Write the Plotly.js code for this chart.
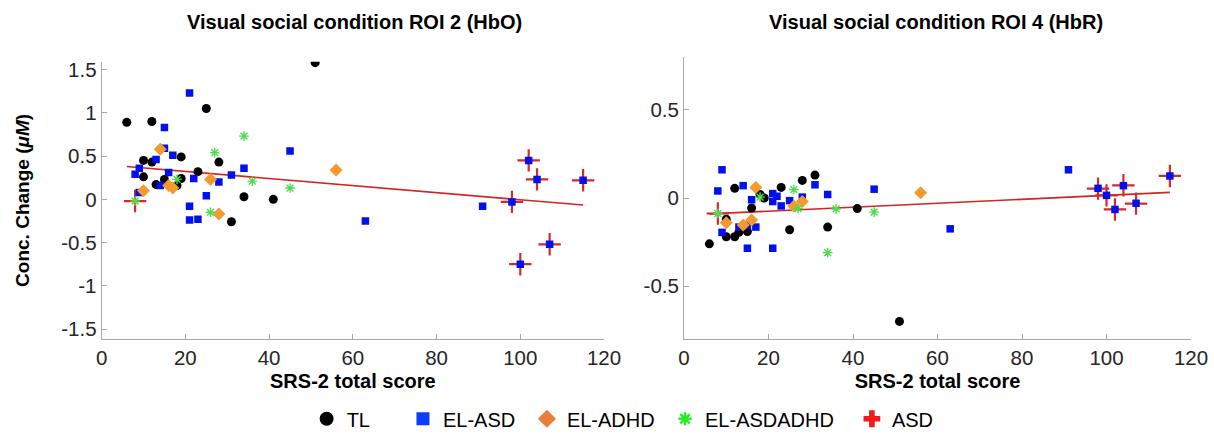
<!DOCTYPE html>
<html>
<head>
<meta charset="utf-8">
<script src="https://cdn.plot.ly/plotly-3.0.1.min.js"></script>
<style>html,body{margin:0;padding:0;background:#fff;}#chart{width:1214px;height:440px;}</style>
</head>
<body>
<div id="chart"></div>
<script>
// ---------- Data ----------
const titleLeft = 'Visual social condition ROI 2 (HbO)';
const titleRight = 'Visual social condition ROI 4 (HbR)';
const xTitle = 'SRS-2 total score';
const yTitle = 'Conc. Change (<i>μM</i>)';
const groupNames = ['TL', 'EL-ASD', 'EL-ADHD', 'EL-ASDADHD', 'ASD'];

// Left panel: ROI 2 (HbO)
const hboTL_x = [6, 12, 25, 51, 19, 10, 12, 28, 10, 23, 19, 15, 13, 18, 34, 41, 31];
const hboTL_y = [0.89, 0.90, 1.05, 1.58, 0.49, 0.45, 0.43, 0.43, 0.26, 0.32, 0.24, 0.23, 0.17, 0.16, 0.03, 0.00, -0.26];
const hboELASD_x = [21, 15, 15, 45, 17, 13, 9, 8, 16, 34, 31, 22, 14, 28, 9, 25, 21, 21, 23, 63, 91, 102, 104, 115, 98, 107, 100];
const hboELASD_y = [1.23, 0.83, 0.59, 0.56, 0.51, 0.46, 0.36, 0.29, 0.31, 0.36, 0.28, 0.24, 0.16, 0.20, 0.08, 0.04, -0.08, -0.24, -0.23, -0.25, -0.08, 0.45, 0.23, 0.22, -0.03, -0.52, -0.75];
const hboELADHD_x = [14, 16, 17, 26, 10, 28, 56];
const hboELADHD_y = [0.58, 0.16, 0.13, 0.23, 0.10, -0.17, 0.34];
const hboELBOTH_x = [34, 27, 18, 36, 45, 26, 8];
const hboELBOTH_y = [0.73, 0.54, 0.23, 0.21, 0.13, -0.15, -0.02];
const hboASD_x = [8, 98, 100, 102, 104, 107, 115];
const hboASD_y = [-0.02, -0.03, -0.75, 0.45, 0.23, -0.52, 0.22];
const hboFit = {intercept: 0.404, slope: -0.00409};

// Right panel: ROI 4 (HbR)
const hbrTL_x = [31, 28, 12, 23, 18, 19, 41, 16, 10, 13, 15, 25, 34, 10, 12, 6, 51];
const hbrTL_y = [0.13, 0.10, 0.055, 0.06, 0.02, 0.0, -0.06, -0.057, -0.12, -0.195, -0.19, -0.18, -0.165, -0.22, -0.22, -0.26, -0.70];
const hbrELASD_x = [9, 8, 14, 31, 34, 45, 16, 21, 22, 21, 25, 23, 28, 13, 15, 17, 9, 15, 21, 63, 91, 98, 100, 102, 104, 107, 115];
const hbrELASD_y = [0.16, 0.04, 0.07, 0.075, 0.02, 0.05, -0.01, 0.025, 0.01, -0.02, -0.015, -0.045, 0.005, -0.165, -0.155, -0.165, -0.195, -0.285, -0.285, -0.175, 0.16, 0.055, 0.015, -0.065, 0.07, -0.03, 0.125];
const hbrELADHD_x = [17, 28, 26, 10, 16, 14, 56];
const hbrELADHD_y = [0.06, -0.02, -0.047, -0.14, -0.125, -0.153, 0.03];
const hbrELBOTH_x = [26, 18, 27, 36, 45, 34, 8];
const hbrELBOTH_y = [0.048, 0.005, -0.06, -0.062, -0.08, -0.31, -0.088];
const hbrASD_x = [8, 98, 100, 102, 104, 107, 115];
const hbrASD_y = [-0.088, 0.053, 0.015, -0.065, 0.072, -0.032, 0.125];
const hbrFit = {intercept: -0.097, slope: 0.00112};

// Axis ticks
const xTickVals = [0, 20, 40, 60, 80, 100, 120];
const xTickText = ['0', '20', '40', '60', '80', '100', '120'];
const yTickValsLeft = [-1.5, -1, -0.5, 0, 0.5, 1, 1.5];
const yTickTextLeft = ['-1.5', '-1', '-0.5', '0', '0.5', '1', '1.5'];
const yTickValsRight = [-0.5, 0, 0.5];
const yTickTextRight = ['-0.5', '0', '0.5'];

// ---------- Styles ----------
const FONT = 'Liberation Sans, Arial, Helvetica, sans-serif';
const styles = {
  TL: {symbol: 'circle', size: 9, color: '#000000', line: {width: 0}},
  ELASD: {symbol: 'square', size: 7.5, color: '#0010ee', line: {width: 0}},
  ELADHD: {symbol: 'diamond', size: 10, color: '#f29a2e', line: {width: 0}},
  ELBOTH: {symbol: 'asterisk-open', size: 8, color: '#4fdc4f', line: {width: 1.4, color: '#4fdc4f'}},
  ASD: {symbol: 'cross-thin-open', size: 16, color: '#d42a2a', line: {width: 2.2, color: '#d42a2a'}}
};
const legendStyles = [
  {symbol: 'circle', size: 14, color: '#000000', line: {width: 0}},
  {symbol: 'square', size: 13, color: '#0a3cff', line: {width: 0}},
  {symbol: 'diamond', size: 14, color: '#e8803a', line: {width: 0}},
  {symbol: 'asterisk-open', size: 11, color: '#22ee22', line: {width: 2.4, color: '#22ee22'}},
  {symbol: 'cross', size: 14, color: '#ee1c1c', line: {width: 0}}
];

function pts(x, y, name, st, xa, ya) {
  return {type: 'scatter', mode: 'markers', x: x, y: y, name: name,
    xaxis: xa, yaxis: ya, showlegend: false,
    marker: st, hoverinfo: 'x+y+name'};
}
function fitLine(xs, fit, xa, ya) {
  const all = [].concat(...xs);
  const x0 = Math.min(...all), x1 = Math.max(...all);
  return {type: 'scatter', mode: 'lines', x: [x0, x1],
    y: [fit.intercept + fit.slope * x0, fit.intercept + fit.slope * x1],
    xaxis: xa, yaxis: ya, showlegend: false, hoverinfo: 'skip',
    line: {color: '#d62222', width: 1.6}};
}

const traces = [
  fitLine([hboTL_x, hboELASD_x, hboELADHD_x, hboELBOTH_x, hboASD_x], hboFit, 'x', 'y'),
  pts(hboASD_x, hboASD_y, groupNames[4], styles.ASD, 'x', 'y'),
  pts(hboTL_x, hboTL_y, groupNames[0], styles.TL, 'x', 'y'),
  pts(hboELASD_x, hboELASD_y, groupNames[1], styles.ELASD, 'x', 'y'),
  pts(hboELADHD_x, hboELADHD_y, groupNames[2], styles.ELADHD, 'x', 'y'),
  pts(hboELBOTH_x, hboELBOTH_y, groupNames[3], styles.ELBOTH, 'x', 'y'),
  fitLine([hbrTL_x, hbrELASD_x, hbrELADHD_x, hbrELBOTH_x, hbrASD_x], hbrFit, 'x2', 'y2'),
  pts(hbrASD_x, hbrASD_y, groupNames[4], styles.ASD, 'x2', 'y2'),
  pts(hbrTL_x, hbrTL_y, groupNames[0], styles.TL, 'x2', 'y2'),
  pts(hbrELASD_x, hbrELASD_y, groupNames[1], styles.ELASD, 'x2', 'y2'),
  pts(hbrELADHD_x, hbrELADHD_y, groupNames[2], styles.ELADHD, 'x2', 'y2'),
  pts(hbrELBOTH_x, hbrELBOTH_y, groupNames[3], styles.ELBOTH, 'x2', 'y2')
];
// legend entries (no data points; one legend box per entry, placed like the original)
const legendKeys = ['legend', 'legend2', 'legend3', 'legend4', 'legend5'];
groupNames.forEach(function (nm, i) {
  traces.push({type: 'scatter', mode: 'markers', x: [null], y: [null], name: nm,
    xaxis: 'x', yaxis: 'y', showlegend: true, legend: legendKeys[i], hoverinfo: 'skip',
    marker: legendStyles[i]});
});

const axisCommon = {
  showline: true, linecolor: '#a8a8a8', linewidth: 1,
  ticks: 'inside', ticklen: 5, tickcolor: '#a8a8a8', tickwidth: 1,
  showgrid: false, zeroline: false, mirror: false,
  tickfont: {family: FONT, size: 20.5, color: '#262626'}
};
const titleFont = {family: FONT, size: 20, color: '#000', weight: 'bold'};
const legendFont = {family: FONT, size: 20, color: '#000'};
const legendX = [0.1894, 0.2777, 0.3913, 0.5179, 0.6892];

const layout = {
  width: 1214, height: 440,
  margin: {l: 100, r: 23, t: 57, b: 101, autoexpand: false},
  paper_bgcolor: '#fff', plot_bgcolor: '#fff',
  font: {family: FONT, color: '#000'},
  showlegend: true,
  xaxis: Object.assign({}, axisCommon, {domain: [0.0015, 0.462], range: [0, 120], anchor: 'y',
    tickmode: 'array', tickvals: xTickVals, ticktext: xTickText,
    title: {text: xTitle, font: titleFont, standoff: 6}}),
  yaxis: Object.assign({}, axisCommon, {domain: [0, 0.983], range: [-1.615, 1.59], anchor: 'x',
    tickmode: 'array', tickvals: yTickValsLeft, ticktext: yTickTextLeft,
    title: {text: yTitle, font: {family: FONT, size: 19, color: '#000', weight: 'bold'}, standoff: 26}}),
  xaxis2: Object.assign({}, axisCommon, {domain: [0.5353, 1], range: [0, 120], anchor: 'y2',
    tickmode: 'array', tickvals: xTickVals, ticktext: xTickText,
    title: {text: xTitle, font: titleFont, standoff: 6}}),
  yaxis2: Object.assign({}, axisCommon, {domain: [0, 1], range: [-0.8, 0.8], anchor: 'x2',
    tickmode: 'array', tickvals: yTickValsRight, ticktext: yTickTextRight}),
  annotations: [
    {text: titleLeft, xref: 'paper', yref: 'paper', x: 0.2337, y: 1.124, xanchor: 'center', yanchor: 'middle',
     showarrow: false, font: titleFont},
    {text: titleRight, xref: 'paper', yref: 'paper', x: 0.7663, y: 1.124, xanchor: 'center', yanchor: 'middle',
     showarrow: false, font: titleFont}
  ]
};
legendKeys.forEach(function (k, i) {
  layout[k] = {orientation: 'h', x: legendX[i], xanchor: 'left', y: -0.352, yanchor: 'bottom',
    font: legendFont, itemsizing: 'trace', bgcolor: 'rgba(0,0,0,0)', borderwidth: 0};
});

Plotly.newPlot('chart', traces, layout, {displayModeBar: false});
</script>
</body>
</html>
